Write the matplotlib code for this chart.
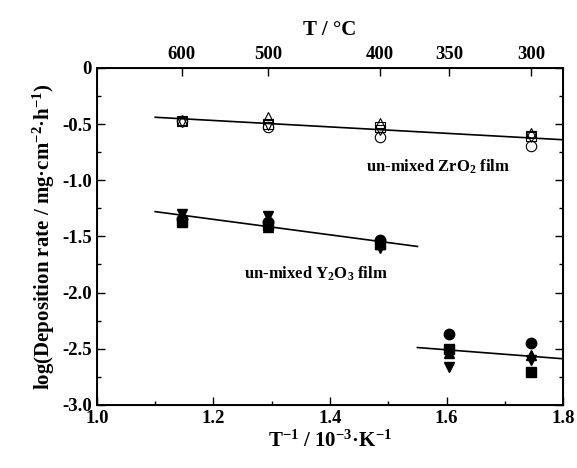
import numpy as np
import matplotlib
matplotlib.use('Agg')
import matplotlib.pyplot as plt
from matplotlib.ticker import MultipleLocator

plt.rcParams['font.family'] = ['Liberation Serif', 'DejaVu Serif']
plt.rcParams['font.weight'] = 'bold'
plt.rcParams['axes.labelweight'] = 'bold'
plt.rcParams['mathtext.fontset'] = 'custom'
plt.rcParams['mathtext.rm'] = 'Liberation Serif:bold'
plt.rcParams['mathtext.bf'] = 'Liberation Serif:bold'
plt.rcParams['mathtext.it'] = 'Liberation Serif:bold'

# temperatures (degC) on the top axis
top_T = [600, 500, 400, 350, 300]

# un-mixed ZrO2 film (open symbols), T = 600, 500, 400, 300
zr_T = [600, 500, 400, 300]
zr_sq = [-0.47, -0.50, -0.53, -0.61]
zr_tu = [-0.46, -0.44, -0.49, -0.58]
zr_td = [-0.48, -0.51, -0.55, -0.62]
zr_ci = [-0.47, -0.53, -0.62, -0.70]

# un-mixed Y2O3 film (filled symbols), T = 600, 500, 400
y_T = [600, 500, 400]
y_sq = [-1.37, -1.40, -1.57]
y_tu = [-1.33, -1.42, -1.57]
y_td = [-1.30, -1.32, -1.60]
y_ci = [-1.35, -1.37, -1.53]

# low temperature points, T = 350, 300
lo_T = [350, 300]
lo_ci = [-2.37, -2.45]
lo_sq = [-2.50, -2.71]
lo_tu = [-2.54, -2.56]
lo_td = [-2.66, -2.60]

# fitted lines (1/T, log rate)
zr_line_x = [1.10, 1.80]
zr_line_y = [-0.44, -0.64]
y_line_x = [1.10, 1.55]
y_line_y = [-1.28, -1.59]
lo_line_x = [1.55, 1.80]
lo_line_y = [-2.49, -2.59]


def inv_T(t_list):
    # 1/T in 10^-3 K^-1
    return [1000.0 / (t + 273.15) for t in t_list]


fig = plt.figure(figsize=(5.77, 4.68), dpi=100)
ax = fig.add_axes([0.168, 0.135, 0.808, 0.72])

ms = 7.5
# ZrO2 open symbols
for vals, mk in [(zr_sq, 's'), (zr_tu, '^'), (zr_td, 'v'), (zr_ci, 'o')]:
    ax.plot(inv_T(zr_T), vals, linestyle='none', marker=mk, markersize=ms,
            markerfacecolor='none', markeredgecolor='black', markeredgewidth=0.8)
# Y2O3 filled symbols
for vals, mk in [(y_sq, 's'), (y_tu, '^'), (y_td, 'v'), (y_ci, 'o')]:
    ax.plot(inv_T(y_T), vals, linestyle='none', marker=mk, markersize=ms,
            color='black')
# low temperature filled symbols
for vals, mk in [(lo_sq, 's'), (lo_tu, '^'), (lo_td, 'v'), (lo_ci, 'o')]:
    ax.plot(inv_T(lo_T), vals, linestyle='none', marker=mk, markersize=ms,
            color='black')

ax.plot(zr_line_x, zr_line_y, color='black', linewidth=1.2)
ax.plot(y_line_x, y_line_y, color='black', linewidth=1.2)
ax.plot(lo_line_x, lo_line_y, color='black', linewidth=1.2)

ax.text(1.585, -0.88, 'un-mixed ZrO$_2$ film', ha='center', va='center',
        fontsize=12, fontweight='bold')
ax.text(1.375, -1.83, 'un-mixed Y$_2$O$_3$ film', ha='center', va='center',
        fontsize=12, fontweight='bold')

ax.set_xlim(1.0, 1.8)
ax.set_ylim(-3.0, 0)
ax.xaxis.set_major_locator(MultipleLocator(0.2))
ax.xaxis.set_minor_locator(MultipleLocator(0.1))
ax.yaxis.set_major_locator(MultipleLocator(0.5))
ax.yaxis.set_minor_locator(MultipleLocator(0.25))
ax.set_xticks([1.0, 1.2, 1.4, 1.6, 1.8])
ax.set_xticklabels(['1.0', '1.2', '1.4', '1.6', '1.8'], fontweight='bold')
ax.set_yticks([0, -0.5, -1.0, -1.5, -2.0, -2.5, -3.0])
ax.set_yticklabels(['0', '-0.5', '-1.0', '-1.5', '-2.0', '-2.5', '-3.0'], fontweight='bold')
ax.tick_params(which='both', direction='in', right=True, labelsize=13.5, width=1)
ax.tick_params(which='major', length=6)
ax.tick_params(which='minor', length=3)
for sp in ax.spines.values():
    sp.set_linewidth(1.4)

ax.set_xlabel('T$^{-1}$ / 10$^{-3}$·K$^{-1}$', fontsize=15, fontweight='bold', labelpad=3)
ax.set_ylabel('log(Deposition rate / mg·cm$^{-2}$·h$^{-1}$)', fontsize=15,
              fontweight='bold', labelpad=4)

# top axis in degC
ax2 = ax.twiny()
ax2.set_xlim(ax.get_xlim())
ax2.set_xticks(inv_T(top_T))
ax2.set_xticklabels([str(t) for t in top_T], fontweight='bold')
ax2.tick_params(direction='in', labelsize=13.5, length=6, width=1)
ax2.set_xlabel('T / °C', fontsize=15, fontweight='bold', labelpad=8)

fig.savefig('out.png', dpi=100)
